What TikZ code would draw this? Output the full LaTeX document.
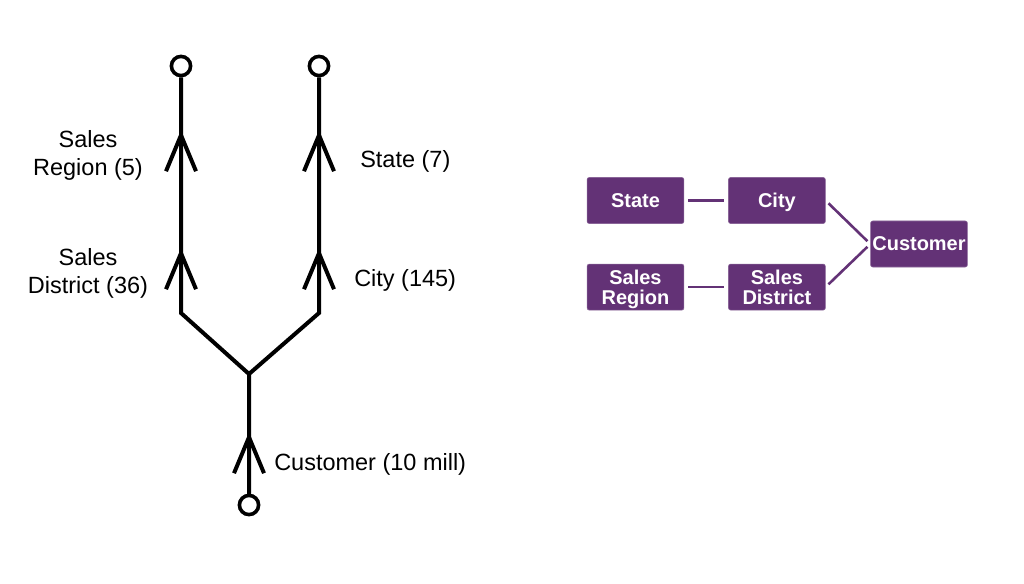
\documentclass[tikz,border=0pt]{standalone}
\usepackage{fontspec}
\setmainfont{Liberation Sans}
\usetikzlibrary{arrows.meta,positioning}
\definecolor{plum}{RGB}{99,50,118}
\begin{document}
\begin{tikzpicture}[x=0.025cm,y=-0.025cm,
    endpt/.style={circle,draw,fill=white,line width=0.09cm,minimum size=0.48cm,inner sep=0pt},
    leg/.style={line width=0.1cm},
    up/.style={leg,-{Straight Barb[length=0.9cm,width=0.75cm]}},
    lbl/.style={font=\fontsize{16.7}{20}\selectfont,align=center,inner sep=0pt},
    box/.style={fill=plum,draw=plum!75!white,rounded corners=1.5pt,minimum width=2.42cm,minimum height=1.15cm,
      text=white,font=\bfseries\fontsize{14.2}{14.5}\selectfont,align=center,inner sep=0pt,text depth=0pt},
    link/.style={draw=plum,line width=0.065cm,shorten <=0.1cm,shorten >=0.1cm}]
  \useasboundingbox (0,0) rectangle (1024,584);
  % hierarchy drawing
  \node[endpt] (tl) at (181,66) {};
  \node[endpt] (tr) at (319,66) {};
  \node[endpt] (bot) at (249,505) {};
  \coordinate (j) at (249,374);
  \coordinate (bl) at (181,313);
  \coordinate (br) at (319,313);
  \coordinate (al1) at (181,130);
  \coordinate (al2) at (181,248);
  \coordinate (ar1) at (319,130);
  \coordinate (ar2) at (319,248);
  \coordinate (ab) at (249,432);
  \draw[leg] (bot) -- (j) -- (bl) -- (tl);
  \draw[leg] (j) -- (br) -- (tr);
  \draw[up] (bl) -- (al2);
  \draw[up] (al2) -- (al1);
  \draw[up] (br) -- (ar2);
  \draw[up] (ar2) -- (ar1);
  \draw[up] (bot) -- (ab);
  \node[lbl] (region) at (88,155) {Sales\\Region (5)};
  \node[lbl] (district) at (88,273) {Sales\\District (36)};
  \node[lbl,anchor=west] (state) at (360,161) {State (7)};
  \node[lbl,anchor=west] (city) at (354,280) {City (145)};
  \node[lbl,anchor=west] (cust) at (274,464) {Customer (10 mill)};
  % boxes
  \node[box] (bstate) at (635.5,200.5) {State};
  \node[box,right=1.1cm of bstate] (bcity) {City};
  \node[box,below=1.0cm of bstate] (bregion) {Sales\\Region};
  \node[box,right=1.1cm of bregion] (bdistrict) {Sales\\District};
  \node[box] (bcust) at (919,244) {Customer};
  \draw[link] (bstate) -- (bcity);
  \draw[link] (bregion) -- (bdistrict);
  \draw[link] (bcity.east) -- (bcust.west);
  \draw[link] (bdistrict.east) -- (bcust.west);
\end{tikzpicture}
\end{document}
